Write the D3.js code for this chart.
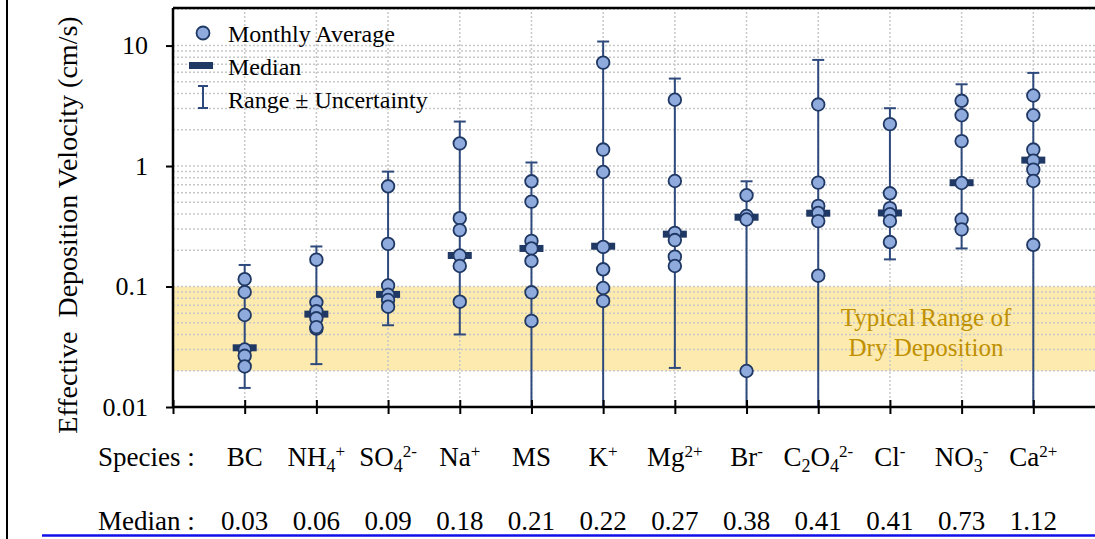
<!DOCTYPE html>
<html>
<head>
<meta charset="utf-8">
<script src="https://cdn.jsdelivr.net/npm/d3@7"></script>
<style>
  body { margin: 0; background: #fff; }
  svg { display: block; font-family: "Liberation Serif", "DejaVu Serif", serif; }
  svg text { font-family: "Liberation Serif", "DejaVu Serif", serif; }
</style>
</head>
<body>
<svg id="chart" width="1095" height="539"></svg>
<script>
// species names, _x = subscript, ^x = superscript
const SPECIES = ['BC', 'NH_4^+', 'SO_4^2-', 'Na^+', 'MS', 'K^+', 'Mg^2+', 'Br^-', 'C_2O_4^2-', 'Cl^-', 'NO_3^-', 'Ca^2+']
const MEDIANS = [0.031, 0.059, 0.086, 0.181, 0.207, 0.216, 0.272, 0.376, 0.406, 0.408, 0.727, 1.12]
const RANGE_HIGH = [0.151, 0.215, 0.899, 2.34, 1.07, 10.8, 5.32, 0.747, 7.6, 3.02, 4.77, 5.93]
// lower end below 0.01 runs off the axis
const RANGE_LOW = [0.0144, 0.0227, 0.0477, 0.040, 0.004, 0.004, 0.0211, 0.004, 0.004, 0.168, 0.207, 0.004]
const MONTHLY = [
  [0.115, 0.090, 0.058, 0.030, 0.0266, 0.0217],
  [0.167, 0.074, 0.0623, 0.0545, 0.0447, 0.046],
  [0.679, 0.226, 0.102, 0.0855, 0.0773, 0.068],
  [1.54, 0.369, 0.294, 0.181, 0.148, 0.0748],
  [0.747, 0.507, 0.239, 0.207, 0.163, 0.0895, 0.0518],
  [7.22, 1.37, 0.892, 0.213, 0.139, 0.0972, 0.0759],
  [3.55, 0.751, 0.279, 0.243, 0.177, 0.148],
  [0.572, 0.385, 0.360, 0.0199],
  [3.24, 0.729, 0.467, 0.408, 0.349, 0.123],
  [2.23, 0.594, 0.447, 0.398, 0.35, 0.234],
  [3.48, 2.64, 1.61, 0.723, 0.36, 0.298],
  [3.85, 2.64, 1.37, 1.11, 0.934, 0.751, 0.222]
]
const Y_TICKS = [0.01, 0.1, 1, 10]
const BAND = [0.02, 0.1]

const svg = d3.select('#chart')
const pLeft = 173, pTop = 8, pBottom = 407, pRight = 1105

const x = d3.scaleLinear().domain([0, SPECIES.length + 1]).range([pLeft, pRight])
const y = d3.scaleLog().domain([0.01, 20.5]).range([pBottom, pTop])

const navy = '#203864'
const lineCol = '#2e4a7d'
const fillCol = '#8faadc'
const serif = '"Liberation Serif", "DejaVu Serif", serif'

svg.append('defs').append('clipPath').attr('id', 'plot')
  .append('rect').attr('x', pLeft).attr('y', pTop).attr('width', 1095 - pLeft).attr('height', pBottom - pTop)

// page border bits
svg.append('line').attr('x1', 7).attr('x2', 7).attr('y1', 0).attr('y2', 539)
  .attr('stroke', '#000').attr('stroke-width', 2)
svg.append('line').attr('x1', 42).attr('x2', 1095).attr('y1', 535.5).attr('y2', 535.5)
  .attr('stroke', '#1010e8').attr('stroke-width', 2.5)

const plot = svg.append('g').attr('clip-path', 'url(#plot)')

// yellow band
plot.append('rect')
  .attr('x', pLeft).attr('width', 1095 - pLeft)
  .attr('y', y(BAND[1])).attr('height', y(BAND[0]) - y(BAND[1]))
  .attr('fill', '#fdeaae')

// grid
const minor = []
for (let e = -2; e <= 1; e++) {
  for (let m = 1; m <= 9; m++) {
    const v = m * Math.pow(10, e)
    if (v <= 20.5 && v > 0.01) minor.push(v)
  }
}
plot.selectAll('.hgrid').data(minor).enter().append('line')
  .attr('x1', pLeft).attr('x2', 1095)
  .attr('y1', d => y(d)).attr('y2', d => y(d))
  .attr('stroke', '#c8c8c8').attr('stroke-width', 1.5).attr('stroke-dasharray', '2,2')
plot.selectAll('.vgrid').data(SPECIES).enter().append('line')
  .attr('x1', (d, i) => x(i + 1)).attr('x2', (d, i) => x(i + 1))
  .attr('y1', pTop).attr('y2', pBottom)
  .attr('stroke', '#c8c8c8').attr('stroke-width', 1.5).attr('stroke-dasharray', '2,2')

// band label
const bandText = svg.append('text').attr('fill', '#bf9000').attr('font-size', 25)
  .attr('text-anchor', 'middle')
bandText.append('tspan').attr('x', 926).attr('y', 326).text('Typical\u2009Range of')
bandText.append('tspan').attr('x', 926).attr('y', 356).text('Dry Deposition')

// error bars
const groups = plot.selectAll('.sp').data(SPECIES).enter().append('g')
  .attr('transform', (d, i) => `translate(${x(i + 1)},0)`)

groups.append('line')
  .attr('y1', (d, i) => y(RANGE_LOW[i])).attr('y2', (d, i) => y(RANGE_HIGH[i]))
  .attr('stroke', lineCol).attr('stroke-width', 2)
groups.append('line')
  .attr('x1', -6).attr('x2', 6)
  .attr('y1', (d, i) => y(RANGE_HIGH[i])).attr('y2', (d, i) => y(RANGE_HIGH[i]))
  .attr('stroke', lineCol).attr('stroke-width', 2)
groups.filter((d, i) => RANGE_LOW[i] > 0.01).append('line')
  .attr('x1', -6).attr('x2', 6)
  .attr('y1', d => y(RANGE_LOW[SPECIES.indexOf(d)])).attr('y2', d => y(RANGE_LOW[SPECIES.indexOf(d)]))
  .attr('stroke', lineCol).attr('stroke-width', 2)

// median bars
groups.append('rect')
  .attr('x', -12).attr('width', 24).attr('height', 7)
  .attr('y', (d, i) => y(MEDIANS[i]) - 3.5)
  .attr('fill', navy)

// monthly points
groups.each(function (d, i) {
  d3.select(this).selectAll('circle').data(MONTHLY[i]).enter().append('circle')
    .attr('cy', v => y(v)).attr('r', 6.3)
    .attr('fill', fillCol).attr('stroke', navy).attr('stroke-width', 1.8)
})

// axes frame
svg.append('line').attr('x1', pLeft).attr('x2', 1095).attr('y1', pTop).attr('y2', pTop)
  .attr('stroke', '#000').attr('stroke-width', 2.5)

const yAxis = svg.append('g').attr('transform', `translate(${pLeft},0)`)
  .call(d3.axisLeft(y).tickValues(Y_TICKS).tickFormat(d => String(d)).tickSize(7).tickPadding(18))
yAxis.attr('font-family', serif)
yAxis.select('.domain').attr('stroke-width', 2.5).attr('d', `M0,${pTop}V${pBottom}`)
yAxis.selectAll('.tick line').attr('stroke-width', 2)
yAxis.selectAll('.tick text').attr('font-size', 26).attr('fill', '#000')

const xAxis = svg.append('g').attr('transform', `translate(0,${pBottom})`)
  .call(d3.axisBottom(x).tickValues(d3.range(0, SPECIES.length + 1)).tickSize(7).tickFormat(''))
xAxis.select('.domain').attr('stroke-width', 2.5).attr('d', `M${pLeft},0H1095`)
xAxis.selectAll('.tick line').attr('y1', -7).attr('stroke-width', 2)

// y title
svg.append('text')
  .attr('transform', 'translate(77,225) rotate(-90)')
  .attr('text-anchor', 'middle').attr('font-size', 28).attr('xml:space', 'preserve')
  .text('Effective  Deposition Velocity (cm/s)')

// species labels with sub/superscripts
function richLabel(sel, str) {
  const parts = str.match(/_\d|\^\d*[+\-]|[^_^]+/g)
  let shift = 0
  parts.forEach(p => {
    let want = 0, txt = p, size = null
    if (p[0] === '_') { want = 6; txt = p.slice(1); size = 18 }
    else if (p[0] === '^') { want = -9; txt = p.slice(1); size = 17 }
    const t = sel.append('tspan').attr('dy', want - shift).text(txt)
    if (size) t.attr('font-size', size)
    shift = want
  })
}

svg.append('text').attr('x', 98).attr('y', 466).attr('font-size', 27).text('Species :')
SPECIES.forEach((s, i) => {
  const t = svg.append('text').attr('x', x(i + 1)).attr('y', 466)
    .attr('font-size', 27).attr('text-anchor', 'middle')
  richLabel(t, s)
})

svg.append('text').attr('x', 98).attr('y', 530).attr('font-size', 27).text('Median :')
svg.selectAll('.medlab').data(MEDIANS).enter().append('text')
  .attr('x', (d, i) => x(i + 1)).attr('y', 530)
  .attr('font-size', 27).attr('text-anchor', 'middle')
  .text(d => d.toFixed(2))

// legend
const lg = svg.append('g')
lg.append('circle').attr('cx', 203).attr('cy', 33).attr('r', 6.5)
  .attr('fill', fillCol).attr('stroke', navy).attr('stroke-width', 1.8)
lg.append('rect').attr('x', 189).attr('y', 62).attr('width', 24).attr('height', 7).attr('fill', navy)
lg.append('line').attr('x1', 203).attr('x2', 203).attr('y1', 86).attr('y2', 108)
  .attr('stroke', lineCol).attr('stroke-width', 2)
lg.append('line').attr('x1', 198).attr('x2', 208).attr('y1', 86).attr('y2', 86)
  .attr('stroke', lineCol).attr('stroke-width', 2)
lg.append('line').attr('x1', 198).attr('x2', 208).attr('y1', 108).attr('y2', 108)
  .attr('stroke', lineCol).attr('stroke-width', 2)
const legendText = ['Monthly Average', 'Median', 'Range \u00b1 Uncertainty']
lg.selectAll('.lt').data(legendText).enter().append('text')
  .attr('x', 228).attr('y', (d, i) => 42 + i * 33)
  .attr('font-size', 24).text(d => d)
</script>
</body>
</html>
